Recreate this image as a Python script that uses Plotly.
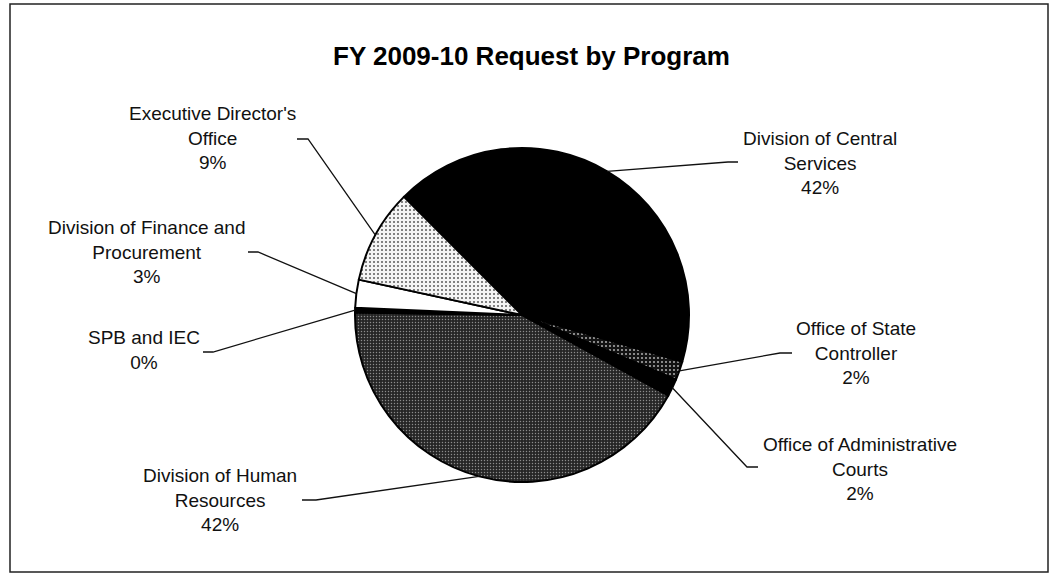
import math
import plotly.graph_objects as go

# ---- data ----
labels = ["Division of Central Services", "Office of State Controller",
          "Office of Administrative Courts", "Division of Human Resources",
          "SPB and IEC", "Division of Finance and Procurement",
          "Executive Director's Office"]
label_text = ["Division of Central<br>Services", "Office of State<br>Controller",
              "Office of Administrative<br>Courts", "Division of Human<br>Resources",
              "SPB and IEC", "Division of Finance and<br>Procurement",
              "Executive Director's<br>Office"]
values = [42.0, 1.8, 1.7, 42.2, 0.45, 2.7, 9.1]
title = "FY 2009-10 Request by Program"

# ---- styling / layout ----
W, H = 1053, 575
CX, CY, R = 522, 315, 167
ROT = -45  # degrees, clockwise from 12 o'clock

colors = ["#000000", "#121212", "#000000", "#262626", "#000000", "#ffffff", "#f4f4f4"]
pat_shape = ["", ".", "", ".", "", "", "."]
pat_fg = ["#000000", "#b0b0b0", "#000000", "#8c8c8c", "#000000", "#000000", "#5a5a5a"]
pat_size = [4, 4, 4, 3, 4, 4, 4]
pat_sol = [0.2, 0.2, 0.2, 0.18, 0.2, 0.2, 0.2]

# label centres (pixels) and leader tick endpoints (outer, inner) in pixels
label_pos = [(820, 163), (856, 353), (860, 469), (220, 500), (144, 350), (147, 252), (212, 138)]
tick_pts = [((738, 162), (728, 162)), ((792, 353), (780, 353)), ((758, 467), (747, 467)),
            ((302, 500), (316, 500)), ((203, 352), (213, 352)), ((248, 252), (258, 252)),
            ((297, 139), (308, 139))]

def px(x):
    return x / W

def py(y):
    return 1 - y / H

fig = go.Figure()
fig.add_trace(go.Pie(
    labels=labels, values=values, sort=False, direction="clockwise", rotation=ROT,
    textinfo="none", hoverinfo="label+percent",
    marker=dict(colors=colors, line=dict(color="#000000", width=2),
                pattern=dict(shape=pat_shape, fgcolor=pat_fg, bgcolor=colors,
                             size=pat_size, solidity=pat_sol, fillmode="replace")),
    domain=dict(x=[px(CX - R), px(CX + R)], y=[py(CY + R), py(CY - R)]),
    showlegend=False,
))

total = sum(values)
cum = 0.0
annotations = []
shapes = []
for i, v in enumerate(values):
    mid = ROT + (cum + v / 2) / total * 360.0
    cum += v
    a = math.radians(mid)
    ex, ey = CX + R * math.sin(a), CY - R * math.cos(a)
    (ox, oy), (ix, iy) = tick_pts[i]
    shapes.append(dict(type="path", xref="paper", yref="paper",
                       path=f"M {px(ox)},{py(oy)} L {px(ix)},{py(iy)} L {px(ex)},{py(ey)}",
                       line=dict(color="#111111", width=1.3)))
    pct = round(v / total * 100)
    lx, ly = label_pos[i]
    annotations.append(dict(x=px(lx), y=py(ly), xref="paper", yref="paper",
                            text=f"{label_text[i]}<br>{pct}%", showarrow=False,
                            xanchor="center", yanchor="middle", align="center",
                            font=dict(family="Liberation Sans, Arial, sans-serif", size=19, color="#111111")))

annotations.append(dict(x=px(531), y=py(56), xref="paper", yref="paper", text=f"<b>{title}</b>",
                        showarrow=False, xanchor="center", yanchor="middle",
                        font=dict(family="Liberation Sans, Arial, sans-serif", size=26, color="#000000")))

shapes.append(dict(type="rect", xref="paper", yref="paper", x0=px(10), y0=py(572), x1=px(1048), y1=py(4),
                   line=dict(color="#222222", width=1.5)))

fig.update_layout(width=W, height=H, margin=dict(l=0, r=0, t=0, b=0),
                  paper_bgcolor="white", plot_bgcolor="white",
                  annotations=annotations, shapes=shapes)

fig.write_html("out.html")
